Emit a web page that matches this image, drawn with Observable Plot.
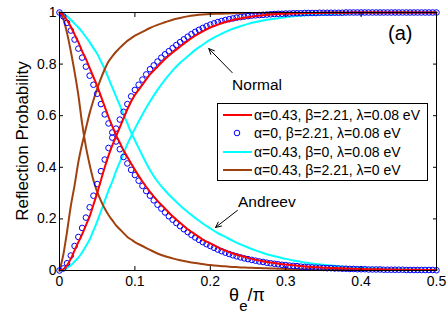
<!DOCTYPE html>
<html>
<head>
<meta charset="utf-8">
<script src="https://cdn.jsdelivr.net/npm/d3@7"></script>
<script src="https://cdn.jsdelivr.net/npm/@observablehq/plot@0.6"></script>
<style>
  body { margin: 0; background: #fff; }
  #wrap { position: relative; width: 447px; height: 322px; font-family: "Liberation Sans", Arial, sans-serif; }
  #legend { position: absolute; left: 217px; top: 103px; width: 211px; height: 78px; box-sizing: border-box;
            border: 1px solid #000; background: #fff; }
  .row { position: absolute; left: 0; height: 18px; display: flex; align-items: center; font-size: 14px; color: #000; white-space: nowrap; }
  .row svg { display: block; margin-left: 4px; margin-right: 2px; }
</style>
</head>
<body>
<div id="wrap"></div>
<script>
// ---- data ----
const xLine = [0,0.005,0.01,0.015,0.02,0.025,0.03,0.035,0.04,0.045,0.05,0.055,0.06,0.065,0.07,0.075,0.08,0.085,0.09,0.095,0.1,
  0.11,0.12,0.13,0.14,0.15,0.16,0.17,0.18,0.19,0.2,
  0.21,0.22,0.23,0.24,0.25,0.26,0.27,0.28,0.29,0.3,
  0.31,0.32,0.33,0.34,0.35,0.36,0.37,0.38,0.39,0.4,
  0.41,0.42,0.43,0.44,0.45,0.46,0.47,0.48,0.49,0.5];

const redNormal = [0,0.005,0.02,0.045,0.078,0.11,0.14,0.175,0.21,0.255,0.3,0.35,0.4,0.445,0.485,0.52,0.555,0.59,0.625,0.655,0.68,
  0.72,0.76,0.79,0.82,0.845,0.868,0.89,0.91,0.927,0.942,
  0.953,0.963,0.971,0.977,0.982,0.986,0.989,0.992,0.994,0.995,
  0.996,0.997,0.998,0.998,0.999,0.999,0.999,0.999,1,1,
  1,1,1,1,1,1,1,1,1,1];
const redAndreev = [1,0.99,0.97,0.945,0.915,0.885,0.85,0.82,0.785,0.75,0.715,0.675,0.635,0.595,0.56,0.525,0.495,0.465,0.44,0.415,0.39,
  0.345,0.305,0.27,0.24,0.21,0.185,0.16,0.14,0.12,0.105,
  0.09,0.077,0.066,0.057,0.049,0.042,0.036,0.031,0.027,0.023,
  0.02,0.017,0.015,0.013,0.011,0.01,0.009,0.008,0.007,0.006,
  0.005,0.005,0.004,0.004,0.003,0.003,0.003,0.002,0.002,0.002];
const cyanNormal = [0,0.003,0.01,0.02,0.035,0.05,0.07,0.095,0.12,0.155,0.19,0.23,0.27,0.31,0.345,0.385,0.42,0.455,0.49,0.52,0.55,
  0.605,0.655,0.7,0.74,0.775,0.805,0.83,0.855,0.875,0.895,
  0.91,0.925,0.937,0.947,0.956,0.963,0.969,0.974,0.978,0.982,
  0.985,0.988,0.99,0.992,0.993,0.994,0.995,0.996,0.997,0.997,
  0.998,0.998,0.998,0.999,0.999,0.999,0.999,0.999,1,1];
const cyanAndreev = [1,0.995,0.985,0.972,0.957,0.942,0.925,0.905,0.885,0.862,0.84,0.81,0.78,0.745,0.71,0.675,0.64,0.605,0.57,0.535,0.505,
  0.445,0.39,0.345,0.31,0.28,0.252,0.227,0.204,0.182,0.163,
  0.145,0.13,0.115,0.101,0.089,0.078,0.068,0.059,0.052,0.045,
  0.039,0.034,0.029,0.025,0.022,0.019,0.016,0.014,0.012,0.01,
  0.009,0.008,0.007,0.006,0.005,0.004,0.004,0.003,0.003,0.003];
const brownNormal = [0,0.06,0.15,0.25,0.33,0.42,0.49,0.55,0.61,0.66,0.705,0.745,0.78,0.81,0.83,0.848,0.863,0.877,0.89,0.9,0.91,
  0.925,0.94,0.952,0.962,0.972,0.979,0.985,0.989,0.992,0.994,
  0.995,0.996,0.997,0.997,0.998,0.998,0.998,0.999,0.999,0.999,
  0.999,0.999,0.999,0.999,1,1,1,1,1,1,
  1,1,1,1,1,1,1,1,1,1];
const brownAndreev = [1,0.975,0.92,0.85,0.77,0.68,0.57,0.48,0.41,0.35,0.305,0.27,0.24,0.215,0.195,0.175,0.16,0.145,0.13,0.12,0.11,
  0.095,0.08,0.066,0.055,0.047,0.04,0.034,0.029,0.025,0.021,
  0.018,0.016,0.014,0.012,0.011,0.01,0.009,0.008,0.007,0.006,
  0.006,0.005,0.005,0.004,0.004,0.004,0.003,0.003,0.003,0.003,
  0.002,0.002,0.002,0.002,0.002,0.002,0.002,0.002,0.002,0.002];

const xCircle = [0,0.005,0.01,0.015,0.02,0.025,0.03,0.035,0.04,0.045,0.05,0.055,0.06,0.065,0.07,0.075,0.08,0.085,0.09,0.095,0.1,
  0.105,0.11,0.115,0.12,0.125,0.13,0.135,0.14,0.145,0.15,
  0.155,0.16,0.165,0.17,0.175,0.18,0.185,0.19,0.195,0.2,
  0.205,0.21,0.215,0.22,0.225,0.23,0.235,0.24,0.245,0.25,
  0.255,0.26,0.265,0.27,0.275,0.28,0.285,0.29,0.295,0.3,
  0.305,0.31,0.315,0.32,0.325,0.33,0.335,0.34,0.345,0.35,
  0.355,0.36,0.365,0.37,0.375,0.38,0.385,0.39,0.395,0.4,
  0.405,0.41,0.415,0.42,0.425,0.43,0.435,0.44,0.445,0.45,
  0.455,0.46,0.465,0.47,0.475,0.48,0.485,0.49,0.495,0.5];
const blueNormal = [0,0.008,0.028,0.058,0.095,0.13,0.165,0.205,0.245,0.29,0.335,0.385,0.43,0.475,0.515,0.55,0.585,0.615,0.645,0.675,0.7,
  0.72,0.74,0.76,0.78,0.795,0.81,0.825,0.838,0.85,0.862,
  0.874,0.885,0.896,0.906,0.916,0.925,0.933,0.94,0.947,0.953,
  0.958,0.963,0.967,0.971,0.974,0.977,0.98,0.982,0.984,0.986,
  0.988,0.989,0.99,0.991,0.992,0.993,0.994,0.995,0.995,0.996,
  0.996,0.997,0.997,0.997,0.998,0.998,0.998,0.998,0.999,0.999,
  0.999,0.999,0.999,0.999,0.999,1,1,1,1,1,
  1,1,1,1,1,1,1,1,1,1,
  1,1,1,1,1,1,1,1,1,1];
const blueAndreev = [1,0.985,0.96,0.93,0.895,0.86,0.825,0.79,0.755,0.72,0.685,0.645,0.605,0.57,0.535,0.5,0.47,0.44,0.415,0.39,0.37,
  0.348,0.328,0.308,0.29,0.272,0.255,0.24,0.225,0.21,0.197,
  0.184,0.172,0.16,0.149,0.138,0.128,0.119,0.11,0.102,0.095,
  0.088,0.081,0.075,0.069,0.064,0.059,0.055,0.051,0.047,0.044,
  0.041,0.038,0.035,0.033,0.03,0.028,0.026,0.024,0.022,0.021,
  0.019,0.018,0.017,0.015,0.014,0.013,0.012,0.011,0.011,0.01,
  0.009,0.009,0.008,0.008,0.007,0.007,0.006,0.006,0.005,0.005,
  0.005,0.004,0.004,0.004,0.004,0.003,0.003,0.003,0.003,0.003,
  0.003,0.002,0.002,0.002,0.002,0.002,0.002,0.002,0.002,0.001];

const xTicks = [0, 0.1, 0.2, 0.3, 0.4, 0.5];
const yTicks = [0, 0.2, 0.4, 0.6, 0.8, 1];
const colors = { red: "#ff0000", blue: "#0000ff", cyan: "#00ffff", brown: "#a0420f" };
const legendLabels = ["α=0.43, β=2.21, λ=0.08 eV", "α=0, β=2.21, λ=0.08 eV", "α=0.43, β=0, λ=0.08 eV", "α=0.43, β=2.21, λ=0 eV"];
const legendKinds = ["red", "blue", "cyan", "brown"];
const notes = [
  { text: "Normal", x: 0.262, y: 0.72, size: 15.5 },
  { text: "Andreev", x: 0.275, y: 0.267, size: 15.5 },
  { text: "(a)", x: 0.452, y: 0.92, size: 20 }
];
const arrows = [
  { x1: 0.229, y1: 0.767, x2: 0.198, y2: 0.86 },
  { x1: 0.236, y1: 0.233, x2: 0.207, y2: 0.167 }
];

// ---- build ----
const mk = (xs, ys) => xs.map((x, i) => ({ x, y: ys[i] }));
const lineOpts = (c) => ({ x: "x", y: "y", stroke: c, strokeWidth: 2, curve: "monotone-x" });

const chart = Plot.plot({
  width: 447, height: 322,
  marginLeft: 59, marginRight: 11, marginTop: 12, marginBottom: 52,
  style: { fontFamily: "'Liberation Sans', Arial, sans-serif", fontSize: "14px", color: "#000", background: "#fff" },
  x: { domain: [0, 0.5] },
  y: { domain: [0, 1] },
  marks: [
    Plot.line(mk(xLine, cyanNormal), lineOpts(colors.cyan)),
    Plot.line(mk(xLine, cyanAndreev), lineOpts(colors.cyan)),
    Plot.line(mk(xLine, brownNormal), lineOpts(colors.brown)),
    Plot.line(mk(xLine, brownAndreev), lineOpts(colors.brown)),
    Plot.dot(mk(xCircle, blueNormal), { x: "x", y: "y", r: 2.8, stroke: colors.blue, fill: "none", strokeWidth: 1 }),
    Plot.dot(mk(xCircle, blueAndreev), { x: "x", y: "y", r: 2.8, stroke: colors.blue, fill: "none", strokeWidth: 1 }),
    Plot.line(mk(xLine, redNormal), lineOpts(colors.red)),
    Plot.line(mk(xLine, redAndreev), lineOpts(colors.red)),
    Plot.arrow(arrows, { x1: "x1", y1: "y1", x2: "x2", y2: "y2", stroke: "#000", strokeWidth: 1, headLength: 9, headAngle: 50 }),
    Plot.text(notes, { x: "x", y: "y", text: "text", fontSize: d => d.size, fill: "#000", textAnchor: "middle" }),
    Plot.frame({ stroke: "#000", strokeWidth: 1 }),
    Plot.axisX(xTicks, { anchor: "bottom", tickSize: -4, tickPadding: 10, tickFormat: d => String(d), label: null }),
    Plot.axisX(xTicks, { anchor: "top", tickSize: -4, tickFormat: () => "", label: null }),
    Plot.axisY(yTicks, { anchor: "left", tickSize: -4, tickPadding: 7, tickFormat: d => String(d), label: null }),
    Plot.axisY(yTicks, { anchor: "right", tickSize: -4, tickFormat: () => "", label: null })
  ]
});

const svg = d3.select(chart);
svg.append("text")
  .attr("transform", "translate(28,141) rotate(-90)")
  .attr("text-anchor", "middle")
  .attr("font-size", 17)
  .attr("fill", "#000")
  .text("Reflection Probability");
const xl = svg.append("text")
  .attr("x", 247).attr("y", 301)
  .attr("text-anchor", "middle")
  .attr("font-size", 18)
  .attr("fill", "#000");
xl.append("tspan").text("θ");
xl.append("tspan").attr("font-size", 15).attr("dy", 10).text("e");
xl.append("tspan").attr("dy", -10).text("/π");

const wrap = document.getElementById("wrap");
wrap.appendChild(chart);

const legend = document.createElement("div");
legend.id = "legend";
const rowCenters = [11, 29, 48, 66];
legendKinds.forEach((k, i) => {
  const row = document.createElement("div");
  row.className = "row";
  row.style.top = (rowCenters[i] - 9) + "px";
  const sw = d3.create("svg").attr("width", 30).attr("height", 10);
  if (k === "blue") {
    sw.append("circle").attr("cx", 15).attr("cy", 5).attr("r", 2.8).attr("fill", "none").attr("stroke", colors.blue).attr("stroke-width", 1);
  } else {
    sw.append("line").attr("x1", 1).attr("x2", 30).attr("y1", 5).attr("y2", 5).attr("stroke", colors[k]).attr("stroke-width", 2);
  }
  row.appendChild(sw.node());
  const span = document.createElement("span");
  span.textContent = legendLabels[i];
  row.appendChild(span);
  legend.appendChild(row);
});
wrap.appendChild(legend);
</script>
</body>
</html>
